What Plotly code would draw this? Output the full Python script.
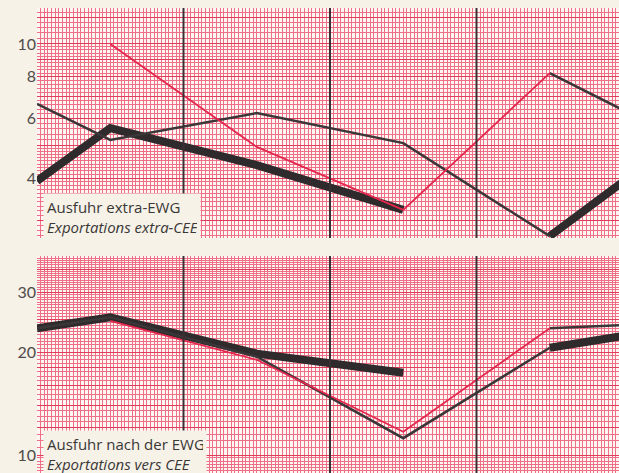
import numpy as np
import plotly.graph_objects as go

# ---------------- data ----------------
# x positions: half-period at the left edge, then periods 1..4, half-period at right
top_thick_x = [0.5, 1, 2, 3]
top_thick = [3.92, 5.63, 4.37, 3.22]
top_thin_x = [0.5, 1, 2, 3, 4]
top_thin = [6.64, 5.19, 6.24, 5.08, 2.69]
top_red_x = [1, 2, 3, 4]
top_red = [10.0, 4.95, 3.22, 8.20]
top_thin2_x = [4, 4.5]
top_thin2 = [8.20, 6.37]
top_thick2_x = [4, 4.5]
top_thick2 = [2.69, 3.90]

bot_thick_x = [0.5, 1, 2, 3]
bot_thick = [23.5, 25.3, 19.8, 17.4]
bot_thin_x = [0.5, 1, 2, 3, 4]
bot_thin = [23.5, 25.3, 19.4, 11.2, 20.6]
bot_red_x = [1, 2, 3, 4]
bot_red = [24.7, 19.0, 11.7, 23.5]
bot_thin2_x = [4, 4.5]
bot_thin2 = [23.5, 24.0]
bot_thick2_x = [4, 4.5]
bot_thick2 = [20.6, 22.3]

top_ticks = [4, 6, 8, 10]
bot_ticks = [10, 20, 30]
top_title = "Ausfuhr extra-EWG<br><i>Exportations extra-CEE</i>"
bot_title = "Ausfuhr nach der EWG<br><i>Exportations vers CEE</i>"
year_lines = [1.5, 2.5, 3.5]

# ---------------- styling ----------------
W, H = 619, 473
ML = 37
PAPER = "#f6f2e7"
PLOTBG = "#fff6f4"
FINE = "rgb(238,112,134)"
MAJOR = "rgb(222,62,90)"
THICK = "#2f2b2d"
THIN = "#3b3638"
RED = "#e3284e"
FONT = "Open Sans, Lato, sans-serif"

def grid(lo, hi, step):
    return [round(v, 3) for v in np.arange(lo, hi + 1e-9, step)]

top_fine = grid(2.6, 5, 0.1) + grid(5.2, 10, 0.2) + grid(10.4, 13, 0.4)
top_major = [3, 4, 5, 6, 7, 8, 9, 10, 12]
bot_fine = grid(8.8, 10, 0.2) + grid(10.5, 40, 0.5)
bot_major = [10, 12, 14, 16, 18, 20, 25, 30, 35]

fig = go.Figure()

def add(x, y, color, width, xa, ya):
    fig.add_trace(go.Scatter(x=x, y=y, mode="lines", xaxis=xa, yaxis=ya,
                             line=dict(color=color, width=width),
                             showlegend=False, hoverinfo="skip"))

add(top_thick_x, top_thick, THICK, 8, "x", "y")
add(top_thick2_x, top_thick2, THICK, 8, "x", "y")
add(top_thin_x, top_thin, THIN, 2.5, "x", "y")
add(top_thin2_x, top_thin2, THIN, 2.5, "x", "y")
add(top_red_x, top_red, RED, 1.8, "x", "y")

add(bot_thick_x, bot_thick, THICK, 8, "x2", "y2")
add(bot_thick2_x, bot_thick2, THICK, 8, "x2", "y2")
add(bot_thin_x, bot_thin, THIN, 2.5, "x2", "y2")
add(bot_thin2_x, bot_thin2, THIN, 2.5, "x2", "y2")
add(bot_red_x, bot_red, RED, 1.8, "x2", "y2")

xr = [0.5, 1 + (W - ML - 73.25) / 146.5]

def xaxis(anchor):
    return dict(range=xr, anchor=anchor, domain=[0, 1], showticklabels=False, ticks="",
                showline=False, zeroline=False,
                tickmode="linear", tick0=0.5, dtick=0.25,
                showgrid=True, gridcolor=FINE, gridwidth=1,
                minor=dict(tickmode="linear", tick0=0.5, dtick=0.025,
                           showgrid=True, gridcolor=FINE, gridwidth=1))

def yaxis(anchor, rng, dom, labels, major, fine):
    return dict(type="log", range=rng, domain=dom, anchor=anchor,
                tickmode="array", tickvals=major,
                ticktext=[str(v) if v in labels else "" for v in major],
                showgrid=True, gridcolor=MAJOR, gridwidth=1,
                ticks="", showline=False, zeroline=False,
                tickfont=dict(family="Lato, Open Sans, sans-serif", size=16, color="#4f4b4b"),
                minor=dict(tickmode="array", tickvals=fine,
                           showgrid=True, gridcolor=FINE, gridwidth=1))

def dom(top_px, bot_px):
    return [(H - bot_px) / H, (H - top_px) / H]

fig.update_layout(
    width=W, height=H,
    margin=dict(l=ML, r=0, t=0, b=0),
    paper_bgcolor=PAPER, plot_bgcolor=PLOTBG,
    xaxis=xaxis("y"),
    xaxis2=xaxis("y2"),
    yaxis=yaxis("x", [0.4243, 1.1068], dom(8, 238), top_ticks, top_major, top_fine),
    yaxis2=yaxis("x2", [0.9473, 1.5825], dom(256, 473), bot_ticks, bot_major, bot_fine),
)

for xa, ya in [("x", "y"), ("x2", "y2")]:
    for xv in year_lines:
        fig.add_shape(type="line", xref=xa, yref=ya + " domain", x0=xv, x1=xv,
                      y0=0, y1=1, layer="above",
                      line=dict(color="#3a3034", width=2))

def label(text, top_px, width):
    fig.add_annotation(xref="paper", yref="paper",
                       x=(43 - ML) / (W - ML), y=(H - top_px) / H,
                       xanchor="left", yanchor="top", align="left",
                       width=width,
                       text=text, showarrow=False, bgcolor=PAPER, borderpad=3,
                       font=dict(family=FONT, size=15, color="#3a3737"))

label(top_title, 193, 150)
label(bot_title, 430, 156)

fig.write_html("out.html", config={"displayModeBar": False},
               post_script="document.body.style.margin='0';")
